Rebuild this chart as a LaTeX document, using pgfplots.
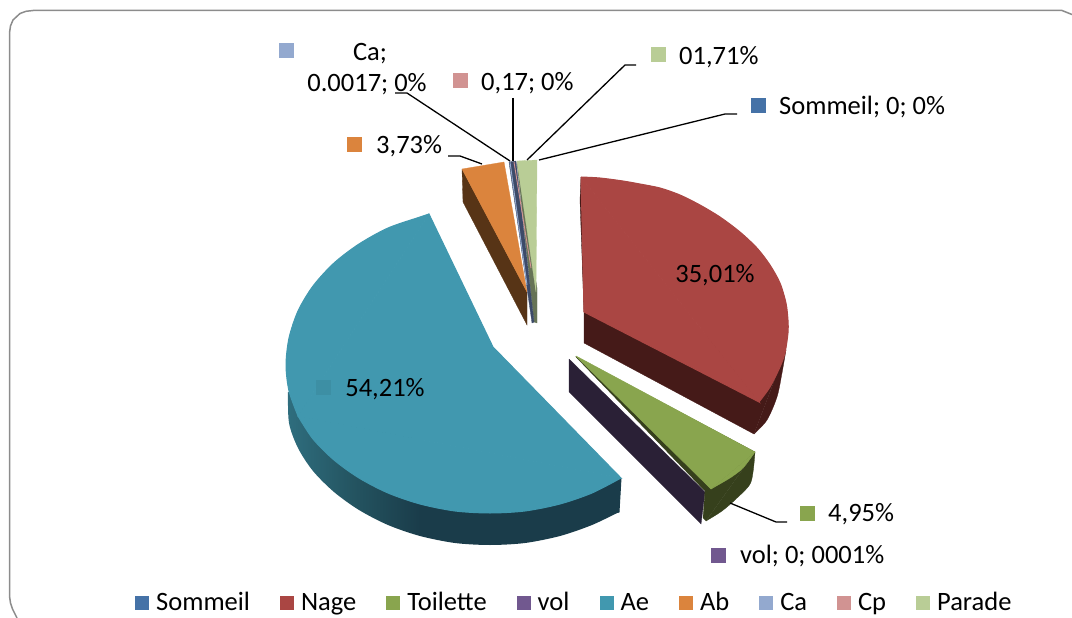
\documentclass[border=0pt]{standalone}
\usepackage{pgfplots}
\usepackage{fontspec}
\setmainfont{Carlito}
\pgfplotsset{compat=1.18}
\definecolor{cSom}{HTML}{4572A7}
\definecolor{cNage}{HTML}{AA4643}
\definecolor{cToi}{HTML}{89A54E}
\definecolor{cVol}{HTML}{71588F}
\definecolor{cAe}{HTML}{4198AF}
\definecolor{cAb}{HTML}{DB843D}
\definecolor{cCa}{HTML}{93A9CF}
\definecolor{cCp}{HTML}{D19392}
\definecolor{cPar}{HTML}{B9CD96}
\definecolor{dNage}{HTML}{451A18}
\definecolor{dToi}{HTML}{36401C}
\definecolor{dVol}{HTML}{2A2036}
\definecolor{dAe}{HTML}{1A3C4A}
\definecolor{dAb}{HTML}{573416}
\definecolor{dStrip}{HTML}{3C4A68}
\definecolor{dPar}{HTML}{667356}
\definecolor{frameGray}{HTML}{8C8C8C}
\pgfdeclarehorizontalshading{aeside}{100bp}{color(0bp)=(cAe!72!black); color(25bp)=(cAe!72!black); color(35bp)=(cAe!55!black); color(45bp)=(dAe); color(100bp)=(dAe)}
\newcommand{\lab}{\fontsize{26.5}{30}\selectfont}
\pgfplotsset{
  face/.style={forget plot,draw=#1,line width=1pt,fill=#1,mark=none},
  leader/.style={forget plot,black,line width=1.3pt,mark=none},
  swatch/.style={forget plot,only marks,mark=square*,mark size=7pt,mark options={draw=#1,fill=#1,line width=0.3pt}},
  frame/.style={forget plot,frameGray,line width=1.5pt,mark=none},
}
\begin{document}
\begin{tikzpicture}
\begin{axis}[
  at={(0,0)},anchor=south west,
  scale only axis,width=1072pt,height=618pt,
  xmin=0,xmax=1072,ymin=0,ymax=618,y dir=reverse,
  hide axis,clip=true,
  legend columns=-1,
  legend image code/.code={\fill[#1] (0pt,0pt) rectangle (14pt,14pt);},
  legend style={at={(axis cs:135,602)},anchor=west,draw=none,fill=none,font=\lab,inner sep=0pt,
    nodes={inner sep=0pt,anchor=base west},
    /tikz/every odd column/.append style={column sep=7pt},
    /tikz/every even column/.append style={column sep=30pt}},
]
\addlegendimage{draw=none,fill=cSom}\addlegendentry{Sommeil}
\addlegendimage{draw=none,fill=cNage}\addlegendentry{Nage}
\addlegendimage{draw=none,fill=cToi}\addlegendentry{Toilette}
\addlegendimage{draw=none,fill=cVol}\addlegendentry{vol}
\addlegendimage{draw=none,fill=cAe}\addlegendentry{Ae}
\addlegendimage{draw=none,fill=cAb}\addlegendentry{Ab}
\addlegendimage{draw=none,fill=cCa}\addlegendentry{Ca}
\addlegendimage{draw=none,fill=cCp}\addlegendentry{Cp}
\addlegendimage{draw=none,fill=cPar}\addlegendentry{Parade}

% frame
\addplot[frame] coordinates {(17,618)(12.5,609)(10.5,603)(9.5,596)(9.5,33)(10.5,26)(13,20)(20,13.5)(26,11.3)(33,10.5)(1062,10.5)(1072,14.5)};

% Ae: side
\addplot[face=dAe] coordinates {(621,478)(619,512)(500,540)(440,500)(621,478)};
\addplot[forget plot,draw=none,shading=aeside,mark=none,smooth] coordinates {(288,392)(289,423)(298,448)(313,471)(334,492)(359,510)(388,525)(420,536)(455,543)(490,545)(525,543)(560,536)(592,525)(619,512)};
% Ae: top
\addplot[face=cAe,smooth] coordinates {(429,214)(420,217)(388,228)(359,244)(334,263)(313,286)(298,311)(289,338)(286,365)(289,391)(298,416)};
\addplot[face=cAe,smooth] coordinates {(298,416)(313,439)(334,460)(359,478)(388,493)(420,504)(455,511)(490,513)(525,511)(560,504)(592,493)(621,478)};
\addplot[face=cAe] coordinates {(493,347)(429,214)(298,416)(621,478)(493,347)};
\addplot[forget plot,only marks,mark=square*,mark size=7pt,mark options={draw=cAe!94!black,fill=cAe!94!black,line width=0.3pt}] coordinates {(323,387)};

% Ab
\addplot[face=dAb,line width=0.3pt] coordinates {(462,169)(463,202)(527,325)(527,292)(462,169)};
\addplot[face=cAb,line width=0.3pt] coordinates {(462,169)(504,162)(527,292)(462,169)};
% Parade, Cp, Ca, vol, Sommeil: the thin slices
\addplot[face=dPar,line width=0.3pt] coordinates {(517,162)(534,322)(537,323)(537,288)(517,162)};
\addplot[face=dStrip,line width=0.3pt] coordinates {(509,162)(516,161)(534,322)(532,323)(509,162)};
\addplot[face=cPar,line width=0.3pt] coordinates {(517,161)(537,160)(536,292)(517,161)};
\addplot[forget plot,cCa,line width=0.9pt,mark=none] coordinates {(510,162)(527,285)};
\addplot[forget plot,cCp,line width=0.9pt,mark=none] coordinates {(514,162)(531,268)};

% vol
\addplot[face=dVol,line width=0.3pt] coordinates {(569,359)(569,392)(701,524)(705,492)(569,359)};
% Toilette
\addplot[face=dToi,line width=0.3pt,smooth] coordinates {(755,452)(751,482)(737,498)(722,511)(706,521)};
\addplot[face=dToi,line width=0.3pt] coordinates {(755,452)(706,521)(703,518)(705,491)(576,357)(755,452)};
\addplot[face=cToi,line width=0.3pt,smooth] coordinates {(755,452)(743,468)(730,478)(711,489)};
\addplot[face=cToi,line width=0.5pt] coordinates {(576,356)(755,452)(711,489)(576,356)};

% Nage
\addplot[face=dNage,line width=0.3pt] coordinates {(584,312)(584,343)(754,434)(786,350)(584,312)};
\addplot[face=dNage,line width=0.3pt,smooth] coordinates {(786,350)(782,373)(777,397)(767,420)(754,434)};
\addplot[face=dNage,line width=0.3pt] coordinates {(581,177)(580,200)(584,312)(581,177)};
\addplot[face=cNage,smooth] coordinates {(581,177)(600,178)(623,181)(640,184)(660,188)(680,195)(700,205)(720,217)(740,232)(757,248)(770,265)(780,283)(786,303)(788,320)(788,333)(785,353)(780,367)(770,387)(759,402)};
\addplot[face=cNage] coordinates {(581,177)(584,312)(759,402)(581,177)};

% leader lines
\addplot[leader] coordinates {(395,93)(407,93)(510,161)};
\addplot[leader] coordinates {(513,98)(513,161)};
\addplot[leader] coordinates {(527,160)(625,65)(636,65)};
\addplot[leader] coordinates {(539,160)(725,114)(737,114)};
\addplot[leader] coordinates {(448,156)(460,156)(482,164)};
\addplot[leader] coordinates {(730,503)(776,522)(787,522)};

% label keys
\addplot[swatch=cCa] coordinates {(286.5,50.5)};
\addplot[swatch=cCp] coordinates {(460.5,80.5)};
\addplot[swatch=cAb] coordinates {(354.5,144.5)};
\addplot[swatch=cPar] coordinates {(658.5,54.5)};
\addplot[swatch=cSom] coordinates {(758,105)};
\addplot[swatch=cToi] coordinates {(807,513)};
\addplot[swatch=cVol] coordinates {(718,555)};

% labels
\node[font=\lab,anchor=center,inner sep=0pt] at (axis cs:370,54) {Ca;};
\node[font=\lab,anchor=center,inner sep=0pt] at (axis cs:367,84) {0.0017; 0\%};
\node[font=\lab,anchor=west,inner sep=0pt] at (axis cs:481,83) {0,17; 0\%};
\node[font=\lab,anchor=west,inner sep=0pt] at (axis cs:376,146) {3,73\%};
\node[font=\lab,anchor=west,inner sep=0pt] at (axis cs:679,57) {01,71\%};
\node[font=\lab,anchor=west,inner sep=0pt] at (axis cs:779,107) {Sommeil; 0; 0\%};
\node[font=\lab,anchor=west,inner sep=0pt] at (axis cs:828,514) {4,95\%};
\node[font=\lab,anchor=west,inner sep=0pt] at (axis cs:740,556) {vol; 0; 0001\%};
\node[font=\lab,anchor=center,inner sep=0pt] at (axis cs:715,275) {35,01\%};
\node[font=\lab,anchor=center,inner sep=0pt] at (axis cs:385,389) {54,21\%};
\end{axis}
\pgfresetboundingbox
\path[use as bounding box] (0,0) rectangle (1072pt,618pt);
\end{tikzpicture}
\end{document}
